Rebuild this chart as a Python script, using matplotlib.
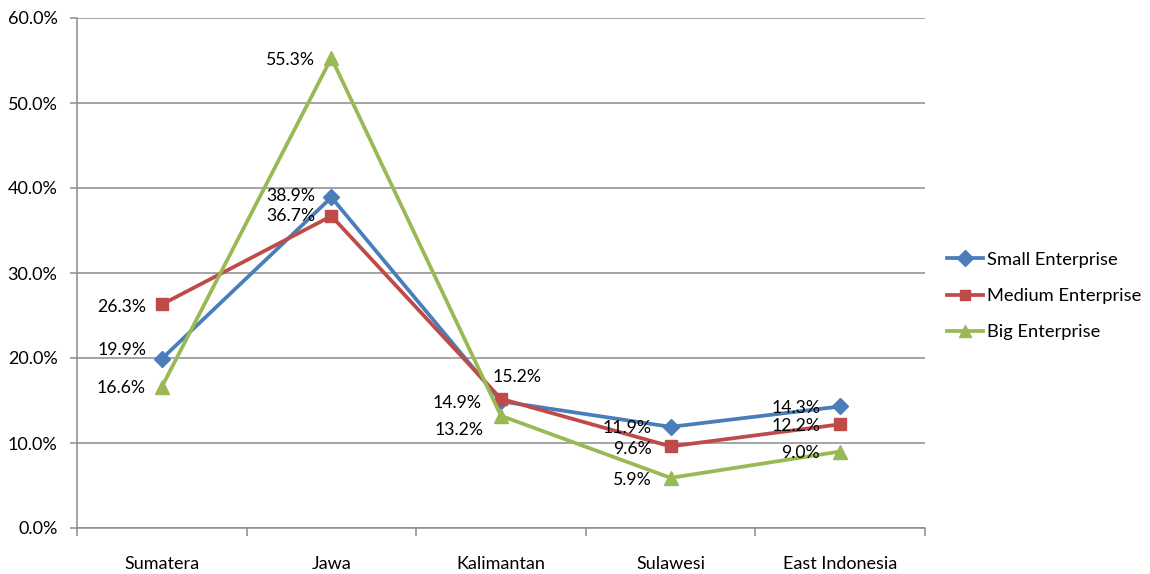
import matplotlib
matplotlib.use("Agg")
import matplotlib.pyplot as plt
from matplotlib.ticker import FixedLocator, FuncFormatter, NullFormatter

plt.rcParams['font.family'] = ['Lato', 'DejaVu Sans']

regions = ["Sumatera", "Jawa", "Kalimantan", "Sulawesi", "East Indonesia"]
small = [19.9, 38.9, 14.9, 11.9, 14.3]
medium = [26.3, 36.7, 15.2, 9.6, 12.2]
big = [16.6, 55.3, 13.2, 5.9, 9.0]
y_ticks = [0, 10, 20, 30, 40, 50, 60]

series = [
    ("Small Enterprise", small, "#4A7EBB", "D", 8.5),
    ("Medium Enterprise", medium, "#BE4B48", "s", 8.5),
    ("Big Enterprise", big, "#98B954", "^", 9.5),
]

# label offsets in pixels (dx, dy, ha) per series and category
label_pos = {
    "Small Enterprise": [(-15, 9, "right"), (-16, 1, "right"), (-20, -2, "right"), (-19, -1, "right"), (-20, -2, "right")],
    "Medium Enterprise": [(-16, -3, "right"), (-16, 0, "right"), (16, 22, "center"), (-19, -3, "right"), (-20, -2, "right")],
    "Big Enterprise": [(-16, -1, "right"), (-16, -2, "right"), (-18, -14, "right"), (-19, -2, "right"), (-20, -2, "right")],
}

fig = plt.figure(figsize=(11.5, 5.74), dpi=100)
ax = fig.add_axes([77 / 1150, 46 / 574, 848 / 1150, 510 / 574])

xs = [i + 0.5 for i in range(len(regions))]
handles = []
for name, vals, color, marker, ms in series:
    h, = ax.plot(xs, vals, color=color, lw=2.7, marker=marker, markersize=ms,
                 markeredgecolor=color, markerfacecolor=color, label=name, zorder=3)
    handles.append(h)
    for x, v, (dx, dy, ha) in zip(xs, vals, label_pos[name]):
        ax.annotate(f"{v:.1f}%", (x, v), xytext=(dx, dy), textcoords="offset pixels",
                    ha=ha, va="center", fontsize=12.7, color="black", zorder=4)

ax.set_xlim(0, 5)
ax.set_ylim(0, 60)

grid_color = "#8C8C8C"
ax.yaxis.set_major_locator(FixedLocator(y_ticks))
ax.yaxis.set_major_formatter(FuncFormatter(lambda v, p: f"{v:.1f}%"))
ax.grid(axis="y", color=grid_color, lw=1.1, zorder=0)
ax.set_axisbelow(True)

ax.xaxis.set_major_locator(FixedLocator(range(0, 6)))
ax.xaxis.set_major_formatter(NullFormatter())
ax.xaxis.set_minor_locator(FixedLocator(xs))
ax.set_xticklabels(regions, minor=True)

ax.tick_params(axis="x", which="major", direction="out", length=6, width=1.1, color=grid_color)
ax.tick_params(axis="x", which="minor", length=0, pad=20, labelsize=13)
ax.tick_params(axis="y", direction="out", length=5, width=1.1, color=grid_color, pad=9, labelsize=13)

for side in ("top", "right"):
    ax.spines[side].set_visible(False)
for side in ("left", "bottom"):
    ax.spines[side].set_color(grid_color)
    ax.spines[side].set_linewidth(1.1)

leg = fig.legend(handles=handles, loc="center left",
                 bbox_to_anchor=(947 / 1150, 1 - 296 / 574), frameon=False,
                 fontsize=13.2, handlelength=1.95, handletextpad=0.25,
                 labelspacing=1.1, borderpad=0, borderaxespad=0, markerscale=0.9)

fig.savefig("out.png", dpi=100)
